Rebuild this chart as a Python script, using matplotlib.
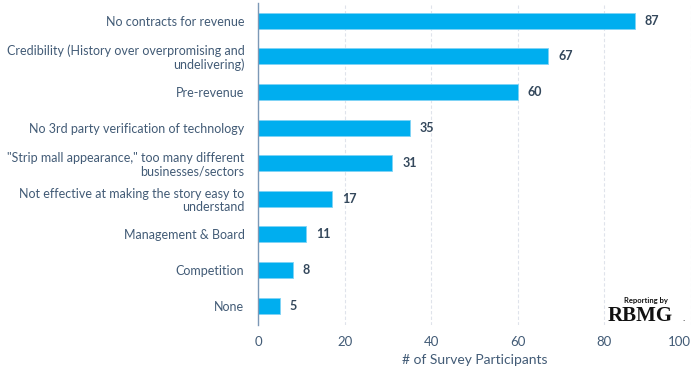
import matplotlib
matplotlib.use("Agg")
import matplotlib.pyplot as plt

categories = [
    "No contracts for revenue",
    "Credibility (History over overpromising and\nundelivering)",
    "Pre-revenue",
    "No 3rd party verification of technology",
    "\"Strip mall appearance,\" too many different\nbusinesses/sectors",
    "Not effective at making the story easy to\nunderstand",
    "Management & Board",
    "Competition",
    "None",
]
values = [87, 67, 60, 35, 31, 17, 11, 8, 5]
xticks = [0, 20, 40, 60, 80, 100]

TXT = "#425b76"
VAL = "#33475b"
BAR = "#00aeef"

plt.rcParams["font.family"] = ["Lato", "DejaVu Sans"]

fig = plt.figure(figsize=(7, 3.75), dpi=100)
ax = fig.add_axes([0.369, 0.133, 0.618, 0.859])

ypos = list(range(len(categories)))
ax.barh(ypos, values, height=0.45, color=BAR, edgecolor="#7fd3f5", linewidth=0.6, zorder=3)
for y, v in zip(ypos, values):
    ax.text(v + 2.3, y, str(v), va="center", ha="left", fontsize=9, fontweight="bold", color=VAL)

ax.set_ylim(len(categories) - 0.45, -0.5)
ax.set_xlim(0, 100)
ax.set_xticks(xticks)
ax.set_yticks(ypos)
ax.set_yticklabels(categories, fontsize=9, color=TXT, linespacing=1.1)
ax.tick_params(axis="x", labelsize=9.5, colors=TXT, length=0, pad=8)
ax.tick_params(axis="y", length=0, pad=10)
ax.get_xticklabels()[-1].set_ha("right")
ax.grid(axis="x", color="#dfe3eb", linestyle=(0, (3, 2)), linewidth=0.8, zorder=0)
for s in ["top", "right", "bottom"]:
    ax.spines[s].set_visible(False)
ax.spines["left"].set_color("#7c98b6")
ax.spines["left"].set_linewidth(1.0)
ax.spines["left"].set_zorder(4)
ax.set_xlabel("# of Survey Participants", fontsize=10, color=TXT, labelpad=4)

# logo
fig.text(0.923, 0.193, "Reporting by", fontsize=5.5, fontweight="bold", ha="center", color="#111111")
fig.text(0.915, 0.143, "RBMG", fontsize=15, fontweight="bold", ha="center",
         family=["Liberation Serif", "DejaVu Serif"], color="#111111")
fig.text(0.976, 0.143, ".", fontsize=7, ha="center", color="#111111")

fig.savefig("out.png", dpi=100)
